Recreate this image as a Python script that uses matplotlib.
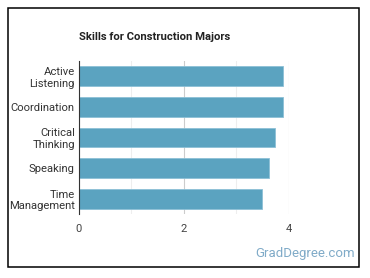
import matplotlib
matplotlib.use('Agg')
from matplotlib import pyplot as plt
from matplotlib.patches import Rectangle

skills = ['Active\nListening', 'Coordination', 'Critical\nThinking', 'Speaking', 'Time\nManagement']
scores = [3.89, 3.89, 3.75, 3.62, 3.50]
ticks = [0, 2, 4]

plt.rcParams['font.family'] = ['Roboto', 'DejaVu Sans']

fig = plt.figure(figsize=(3.7, 2.78), dpi=100)
fig.patch.set_facecolor('white')

# frame around the whole card
fig.patches.append(Rectangle((8 / 370, 1 - 267 / 278), 351 / 370, 259 / 278,
                             transform=fig.transFigure, fill=False,
                             edgecolor='black', linewidth=1.1))

ax = fig.add_axes([79 / 370, 1 - 214 / 278, (288.5 - 79) / 370, (214 - 61) / 278])
y = list(range(len(skills)))
ax.barh(y, scores, height=0.65, color='#5ba3c0', edgecolor='#8cc0d6', linewidth=0.6, zorder=2)
ax.set_ylim(len(skills) - 0.5, -0.5)
ax.set_xlim(0, 4)
ax.set_yticks(y)
ax.set_yticklabels(skills, fontsize=8.1, color='#333333', linespacing=1.2)
ax.set_xticks(ticks)
ax.set_xticklabels([str(t) for t in ticks], fontsize=8.1, color='#444444')
ax.set_xticks([1, 3], minor=True)
ax.grid(axis='x', which='major', color='#cccccc', linewidth=0.8, zorder=0)
ax.grid(axis='x', which='minor', color='#eeeeee', linewidth=0.8, zorder=0)
ax.tick_params(axis='both', which='both', length=0, pad=3)
ax.tick_params(axis='x', pad=7)
for s in ['top', 'right', 'bottom']:
    ax.spines[s].set_visible(False)
ax.spines['left'].set_color('#333333')
ax.spines['left'].set_linewidth(0.8)

fig.text(79 / 370, 1 - 37 / 278, 'Skills for Construction Majors', fontsize=8.1,
         fontweight='bold', color='#222222', va='center', ha='left')
fig.text(355 / 370, 1 - 254 / 278, 'GradDegree.com', fontsize=9.5,
         color='#80abc8', va='center', ha='right')

fig.savefig('out.png', dpi=100)
